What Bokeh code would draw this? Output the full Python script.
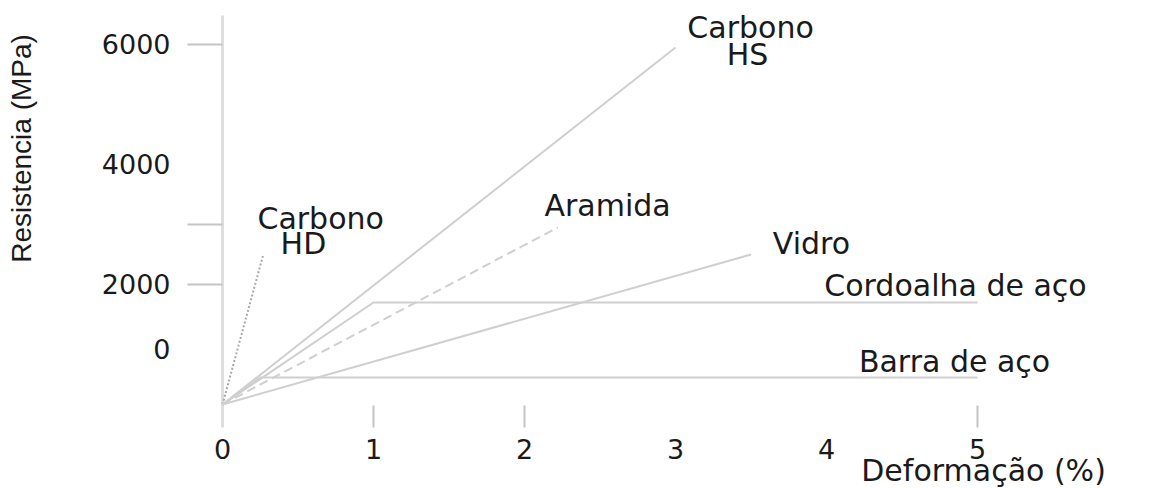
from bokeh.plotting import figure
from bokeh.models import FixedTicker, Range1d, LinearAxis
from bokeh.embed import file_html
from bokeh.resources import INLINE
from bokeh.core.properties import value

# ---- data (strain in %, stress in MPa) ----
hd_strain = [0, 0.27]
hd_stress = [0, 2500]
hs_strain = [0, 3.0]
hs_stress = [0, 5950]
aramida_strain = [0, 2.22]
aramida_stress = [0, 2950]
vidro_strain = [0, 3.5]
vidro_stress = [0, 2500]
cordoalha_strain = [0, 1.0, 5.0]
cordoalha_stress = [0, 1700, 1700]
barra_strain = [0, 0.25, 5.0]
barra_stress = [0, 450, 450]

x_ticks = [0, 1, 2, 3, 4, 5]
x_tick_marks = [1, 2, 5]
y_tick_values = [930, 2000, 4000, 6000]
y_tick_labels = ["0", "2000", "4000", "6000"]
y_tick_marks = [2000, 3000, 6000]
y_axis_extent = [-383, 6483]
x_axis_level = -383

label_texts = ["Carbono", "HD", "Carbono", "HS", "Aramida", "Vidro",
               "Cordoalha de aço", "Barra de aço"]
label_x = [0.65, 0.536, 3.497, 3.477, 2.55, 3.90, 4.854, 4.848]
label_y = [3100, 2683, 6283, 5833, 3317, 2683, 1983, 717]

x_title = "Deformação (%)"
y_title = "Resistencia (MPa)"

LINE = "#cfcfcf"
TEXT = "#1a1a1a"
FONT = "DejaVu Sans"

p = figure(width=1161, height=488, output_backend="svg", toolbar_location=None,
           x_range=Range1d(-1.4702, 6.2185), y_range=Range1d(-1400, 6733.3),
           x_axis_type=None, y_axis_type=None,
           min_border=0, min_border_left=0, min_border_right=0,
           min_border_top=0, min_border_bottom=0)
p.outline_line_color = None
p.grid.visible = False
p.background_fill_color = "white"
p.border_fill_color = "white"

# x axis
xa = LinearAxis(fixed_location=x_axis_level)
xa.ticker = FixedTicker(ticks=x_ticks, minor_ticks=x_tick_marks)
xa.axis_line_color = None
xa.major_tick_line_color = None
xa.major_tick_in = 0
xa.major_tick_out = 0
xa.minor_tick_in = 22
xa.minor_tick_out = 0
xa.minor_tick_line_color = "#c4c4c4"
xa.minor_tick_line_width = 2
xa.major_label_standoff = 12
xa.major_label_text_font = FONT
xa.major_label_text_font_size = "27px"
xa.major_label_text_color = TEXT
p.add_layout(xa, "below")

# y axis
ya = LinearAxis(fixed_location=0)
ya.ticker = FixedTicker(ticks=y_tick_values, minor_ticks=y_tick_marks)
ya.major_label_overrides = {v: t for v, t in zip(y_tick_values, y_tick_labels)}
ya.axis_line_color = None
ya.major_tick_line_color = None
ya.major_tick_in = 0
ya.major_tick_out = 35
ya.minor_tick_in = 0
ya.minor_tick_out = 35
ya.minor_tick_line_color = "#c4c4c4"
ya.minor_tick_line_width = 2
ya.major_label_standoff = 17
ya.major_label_text_font = FONT
ya.major_label_text_font_size = "27px"
ya.major_label_text_color = TEXT
p.add_layout(ya, "left")

# y axis line (limited extent, as in the picture)
p.line([0, 0], y_axis_extent, line_color="#dedede", line_width=3)

# curves
p.line(hd_strain, hd_stress, line_color="#a8a8a8", line_width=2, line_dash="2 2")
p.line(hs_strain, hs_stress, line_color=LINE, line_width=2)
p.line(aramida_strain, aramida_stress, line_color=LINE, line_width=2, line_dash="9 5")
p.line(vidro_strain, vidro_stress, line_color=LINE, line_width=2)
p.line(cordoalha_strain, cordoalha_stress, line_color=LINE, line_width=2)
p.line(barra_strain, barra_stress, line_color=LINE, line_width=2)

# curve labels
p.text(x=label_x, y=label_y, text=label_texts, text_font=value(FONT),
       text_font_size="30px", text_color=TEXT, text_align="center",
       text_baseline="middle")

# axis titles
p.text(x=[5.04], y=[-1100], text=[x_title], text_font=value(FONT),
       text_font_size="30px", text_color=TEXT, text_align="center",
       text_baseline="middle")
p.text(x=[-1.331], y=[4267], text=[y_title], angle=1.5708,
       text_font=value("Liberation Sans"), text_font_size="28px",
       text_color=TEXT, text_align="center", text_baseline="middle")

open("out.html", "w").write(file_html(p, INLINE))
